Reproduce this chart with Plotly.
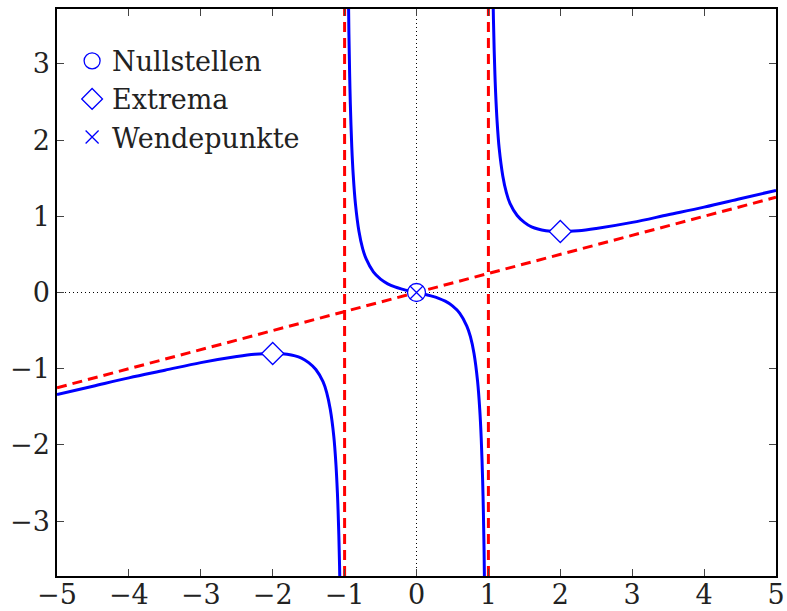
import plotly.graph_objects as go

# Curve branches
x_left = [-5.0, -4.5, -4.0, -3.5, -3.0, -2.5, -2.25, -2.0, -1.8, -1.6, -1.5, -1.4, -1.3, -1.25, -1.2, -1.15, -1.12, -1.1, -1.09, -1.08, -1.07, -1.06]
y_left = [-1.34, -1.23, -1.12, -1.02, -0.92, -0.84, -0.81, -0.80, -0.81, -0.86, -0.92, -1.01, -1.17, -1.31, -1.53, -1.89, -2.26, -2.63, -2.88, -3.19, -3.59, -4.12]

x_mid = [-0.95, -0.94, -0.93, -0.92, -0.9, -0.88, -0.85, -0.8, -0.75, -0.7, -0.6, -0.5, -0.4, -0.3, -0.2, -0.1, 0.0,
         0.1, 0.2, 0.3, 0.4, 0.5, 0.6, 0.7, 0.75, 0.8, 0.85, 0.88, 0.9, 0.92, 0.93, 0.94, 0.95]
y_mid = [4.15, 3.40, 2.87, 2.47, 1.91, 1.54, 1.17, 0.80, 0.58, 0.44, 0.27, 0.175, 0.114, 0.073, 0.044, 0.020, 0.0,
         -0.020, -0.044, -0.073, -0.114, -0.175, -0.27, -0.44, -0.58, -0.80, -1.17, -1.54, -1.91, -2.47, -2.87, -3.40, -4.15]

x_right = [1.06, 1.07, 1.08, 1.09, 1.1, 1.12, 1.15, 1.2, 1.25, 1.3, 1.4, 1.5, 1.6, 1.8, 2.0, 2.25, 2.5, 3.0, 3.5, 4.0, 4.5, 5.0]
y_right = [4.12, 3.59, 3.19, 2.88, 2.63, 2.26, 1.89, 1.53, 1.31, 1.17, 1.01, 0.92, 0.86, 0.81, 0.80, 0.81, 0.84, 0.92, 1.02, 1.12, 1.23, 1.34]

# Asymptotes
asym_x = [-5, 5]
asym_y = [-1.25, 1.25]
vert_pos = [-1, 1]
y_range = [-3.72, 3.72]
x_range = [-5, 5]

# Special points
zero_x = [0]
zero_y = [0]
ext_x = [-2, 2]
ext_y = [-0.8, 0.8]
wp_x = [0]
wp_y = [0]

x_ticks = [-5, -4, -3, -2, -1, 0, 1, 2, 3, 4, 5]
y_ticks = [-3, -2, -1, 0, 1, 2, 3]

font_family = "DejaVu Serif"
blue = "#0000ff"
red = "#ff0000"

fig = go.Figure()

# dotted coordinate axes
fig.add_trace(go.Scatter(x=x_range, y=[0, 0], mode="lines",
                         line=dict(color="black", width=1, dash="1px,3px"), showlegend=False, hoverinfo="skip"))
fig.add_trace(go.Scatter(x=[0, 0], y=y_range, mode="lines",
                         line=dict(color="black", width=1, dash="1px,3px"), showlegend=False, hoverinfo="skip"))

# curve
for xs, ys in [(x_left, y_left), (x_mid, y_mid), (x_right, y_right)]:
    fig.add_trace(go.Scatter(x=xs, y=ys, mode="lines", line=dict(color=blue, width=3, shape="spline"),
                             showlegend=False, hoverinfo="skip"))

# asymptotes
fig.add_trace(go.Scatter(x=asym_x, y=asym_y, mode="lines",
                         line=dict(color=red, width=3, dash="10px,6px"), showlegend=False))
for v in vert_pos:
    fig.add_trace(go.Scatter(x=[v, v], y=y_range, mode="lines",
                             line=dict(color=red, width=3, dash="10px,6px"), showlegend=False))

# markers
fig.add_trace(go.Scatter(x=zero_x, y=zero_y, mode="markers", name="Nullstellen",
                         marker=dict(symbol="circle", size=18, color="white", line=dict(color=blue, width=1.3))))
fig.add_trace(go.Scatter(x=ext_x, y=ext_y, mode="markers", name="Extrema",
                         marker=dict(symbol="diamond", size=17, color="white", line=dict(color=blue, width=1.3))))
fig.add_trace(go.Scatter(x=wp_x, y=wp_y, mode="markers", name="Wendepunkte",
                         marker=dict(symbol="x-thin", size=13, color=blue, line=dict(color=blue, width=1.3))))

axis_common = dict(showgrid=False, zeroline=False, showline=True, linecolor="black", linewidth=1.5,
                   mirror="ticks", ticks="inside", ticklen=7, tickwidth=1, tickcolor="#444",
                   tickfont=dict(family=font_family, size=27, color="#222"))

fig.update_xaxes(range=x_range, tickvals=x_ticks, ticklabelstandoff=-6, **axis_common)
fig.update_yaxes(range=y_range, tickvals=y_ticks, **axis_common)

fig.update_layout(
    width=787, height=611,
    margin=dict(l=57, r=11, t=9, b=35, autoexpand=False),
    plot_bgcolor="white", paper_bgcolor="white",
    font=dict(family=font_family, size=27, color="#222"),
    legend=dict(x=0.021, y=0.951, xanchor="left", yanchor="top", bgcolor="rgba(0,0,0,0)",
                font=dict(family=font_family, size=27, color="#222"), tracegroupgap=0, itemwidth=30),
    showlegend=True,
)

# remove the default page margin so the figure fills the window exactly
fig.write_html("out.html", config={"displayModeBar": False},
               post_script="document.body.style.margin='0';document.body.style.overflow='hidden';")
